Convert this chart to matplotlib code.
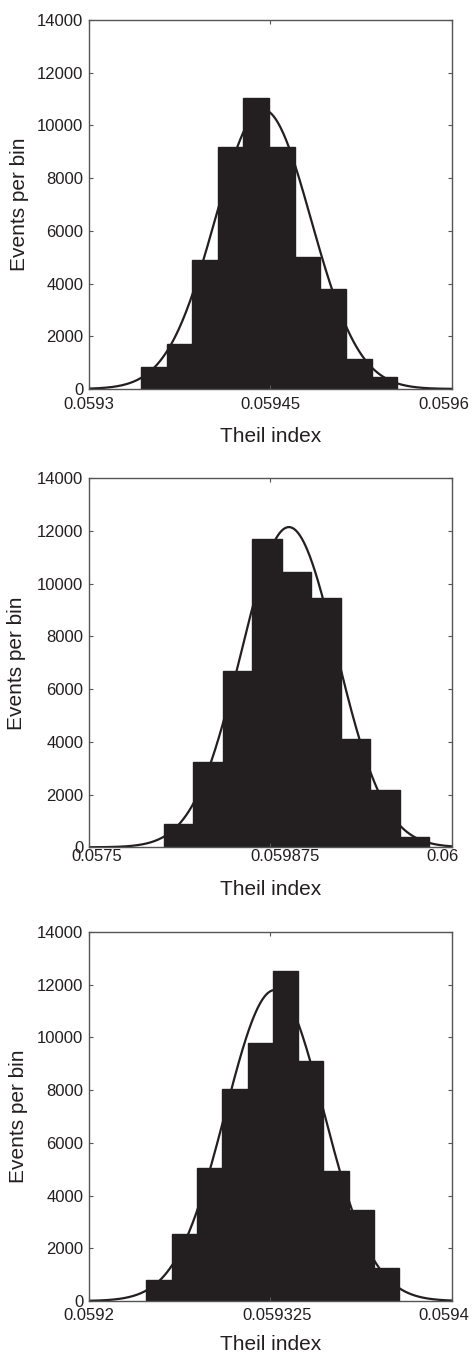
import numpy as np
import matplotlib
matplotlib.use('Agg')
import matplotlib.pyplot as plt
import matplotlib.transforms as mtransforms

plt.rcParams['font.family'] = ['Liberation Sans', 'DejaVu Sans']

# histogram bin edges and counts
edges_1 = [0.059343, 0.0593642, 0.0593854, 0.0594066, 0.0594278, 0.059449,
           0.0594702, 0.0594914, 0.0595126, 0.0595338, 0.059555]
counts_1 = [850, 1700, 4900, 9180, 11050, 9180, 5000, 3780, 1140, 470]

edges_2 = [0.0598016, 0.0598219, 0.0598422, 0.0598625, 0.0598828, 0.0599031,
           0.0599235, 0.0599438, 0.0599641, 0.0599844]
counts_2 = [880, 3250, 6700, 11700, 10430, 9450, 4120, 2170, 390]

edges_3 = [0.0592738, 0.0592842, 0.0592947, 0.0593051, 0.0593156, 0.059326,
           0.0593365, 0.0593469, 0.0593574, 0.0593678, 0.0593783]
counts_3 = [810, 2530, 5060, 8050, 9790, 12540, 9090, 4950, 3440, 1270]

# normal fit: mean, sigma, peak height
fit_1 = (0.059444, 3.97e-5, 10600)
fit_2 = (0.0598878, 3.3e-5, 12150)
fit_3 = (0.0593268, 2.04e-5, 11800)

# x axis range and tick labels (as printed)
xlim_1 = (0.0593, 0.0596)
xlim_2 = (0.05975, 0.06)
xlim_3 = (0.05925, 0.0594)
xticklabels_1 = ['0.0593', '0.05945', '0.0596']
xticklabels_2 = ['0.0575', '0.059875', '0.06']
xticklabels_3 = ['0.0592', '0.059325', '0.0594']

yticks = [0, 2000, 4000, 6000, 8000, 10000, 12000, 14000]

bar_color = '#231f20'

fig = plt.figure(figsize=(4.73, 13.52), dpi=100)

# axes bottom, x tick pad, x label y, y label x, tick label nudges (px)
panels = [
    (edges_1, counts_1, fit_1, xlim_1, xticklabels_1, 0.7123, 6.0, -0.103, -0.165, [0, 0, -8]),
    (edges_2, counts_2, fit_2, xlim_2, xticklabels_2, 0.3733, 1.0, -0.089, -0.174, [8, 15, -9]),
    (edges_3, counts_3, fit_3, xlim_3, xticklabels_3, 0.0377, 5.0, -0.092, -0.168, [0, 7, -8]),
]

for edges, counts, fit, xlim, xtl, bottom, xpad, xlab_y, ylab_x, nudges in panels:
    ax = fig.add_axes([0.188, bottom, 0.767, 0.2729])
    edges = np.array(edges)
    ax.bar(edges[:-1], counts, width=np.diff(edges), align='edge',
           color=bar_color, edgecolor=bar_color, linewidth=1.0)

    mu, sigma, peak = fit
    xs = np.linspace(xlim[0], xlim[1], 400)
    ax.plot(xs, peak * np.exp(-0.5 * ((xs - mu) / sigma) ** 2), color=bar_color, lw=1.6)

    ax.set_xlim(xlim)
    ax.set_ylim(0, 14000)
    ax.set_xticks([xlim[0], (xlim[0] + xlim[1]) / 2, xlim[1]])
    ax.set_xticklabels(xtl)
    ax.set_yticks(yticks)
    ax.tick_params(direction='in', top=True, right=True, length=3, width=0.8,
                   color='#555555', labelsize=12, labelcolor=bar_color)
    ax.tick_params(axis='x', pad=xpad)
    ax.tick_params(axis='y', pad=4)
    for lab, dx in zip(ax.get_xticklabels(), nudges):
        lab.set_transform(lab.get_transform() +
                          mtransforms.ScaledTranslation(dx / 100, 0, fig.dpi_scale_trans))
    for s in ax.spines.values():
        s.set_color('#555555')
        s.set_linewidth(1.0)

    ax.set_xlabel('Theil index', fontsize=15, color=bar_color)
    ax.set_ylabel('Events per bin', fontsize=15, color=bar_color)
    ax.xaxis.set_label_coords(0.5, xlab_y)
    ax.yaxis.set_label_coords(ylab_x, 0.5)

fig.savefig('out.png', dpi=100)
